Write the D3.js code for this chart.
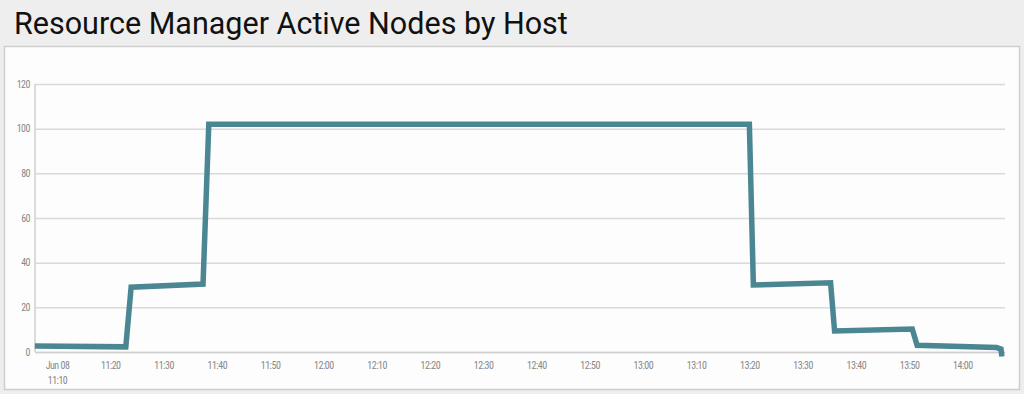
<!DOCTYPE html>
<html><head><meta charset="utf-8">
<script src="https://cdn.jsdelivr.net/npm/d3@7"></script>
<style>
html,body{margin:0;padding:0;background:#eeeeee;}
svg{display:block;}
</style></head>
<body>
<svg id="c" width="1024" height="394"></svg>
<script>
const title = "Resource Manager Active Nodes by Host";
const times = ["11:05:50","11:22:55","11:23:55","11:37:25","11:38:30","13:20:00","13:20:45","13:35:15","13:36:00","13:50:35","13:51:30","14:06:25","14:07:15","14:07:25"];
const values = [2.7,2.3,29,30.4,102,102,30,31,9.4,10.3,3,2,1.3,-2];
const yTicks = [0,20,40,60,80,100,120];
const xTickTimes = ["11:10","11:20","11:30","11:40","11:50","12:00","12:10","12:20","12:30","12:40","12:50","13:00","13:10","13:20","13:30","13:40","13:50","14:00"];
const domainStart = "11:05:52", domainEnd = "14:08:00";

const parse = s => { const p = s.split(":").map(Number); return new Date(2016,5,8,p[0],p[1],p[2]||0); };
const svg = d3.select("#c");

svg.append("text").attr("x",14).attr("y",34).text(title)
  .attr("font-family","Roboto, sans-serif").attr("font-size",30.5).attr("fill","#111");

svg.append("rect").attr("x",4.5).attr("y",46.5).attr("width",1015).attr("height",343)
  .attr("fill","#fdfdfd").attr("stroke","#cfcfcf").attr("stroke-width",1.5);

const x = d3.scaleTime().domain([parse(domainStart),parse(domainEnd)]).range([35,1005]);
const y = d3.scaleLinear().domain([0,120]).range([352,84]);

const g = svg.append("g");
g.append("g").attr("transform","translate(35,0)")
  .call(d3.axisLeft(y).tickValues(yTicks).tickSize(-970).tickPadding(5))
  .call(s=>{s.select(".domain").remove();
    s.selectAll("line").attr("stroke","#dadada").attr("stroke-width",1.5);
    s.selectAll("text").attr("fill","#888").attr("font-size",10)
      .attr("font-family","'Liberation Sans Narrow', 'Roboto Condensed', sans-serif").attr("letter-spacing","-0.5");});
g.append("line").attr("x1",35).attr("x2",35).attr("y1",84).attr("y2",352).attr("stroke","#cfcfcf").attr("stroke-width",1.5);

const fmt = d3.timeFormat("%H:%M");
const xa = g.append("g").attr("transform","translate(0,352)")
  .call(d3.axisBottom(x).tickValues(xTickTimes.map(parse)).tickSize(0).tickPadding(10).tickFormat(fmt))
  .call(s=>{s.select(".domain").attr("stroke","#cfcfcf").attr("stroke-width",1.5);
    s.selectAll("text").attr("fill","#888").attr("font-size",10)
      .attr("font-family","'Liberation Sans Narrow', 'Roboto Condensed', sans-serif").attr("letter-spacing","-0.5");});
xa.selectAll(".tick").filter((d,i)=>i===0).select("text").each(function(){
  const t=d3.select(this); const lab=t.text(); t.text(null);
  t.append("tspan").attr("x",0).attr("dy","0.71em").text("Jun 08");
  t.append("tspan").attr("x",0).attr("dy","1.5em").text(lab);
}).attr("dy",null);

const data = times.map((t,i)=>({t:parse(t),v:values[i]}));
g.append("path").datum(data)
  .attr("d",d3.line().x(d=>x(d.t)).y(d=>y(d.v)))
  .attr("fill","none").attr("stroke","#4a8793").attr("stroke-width",5.5).attr("stroke-linejoin","miter");
</script>
</body></html>
